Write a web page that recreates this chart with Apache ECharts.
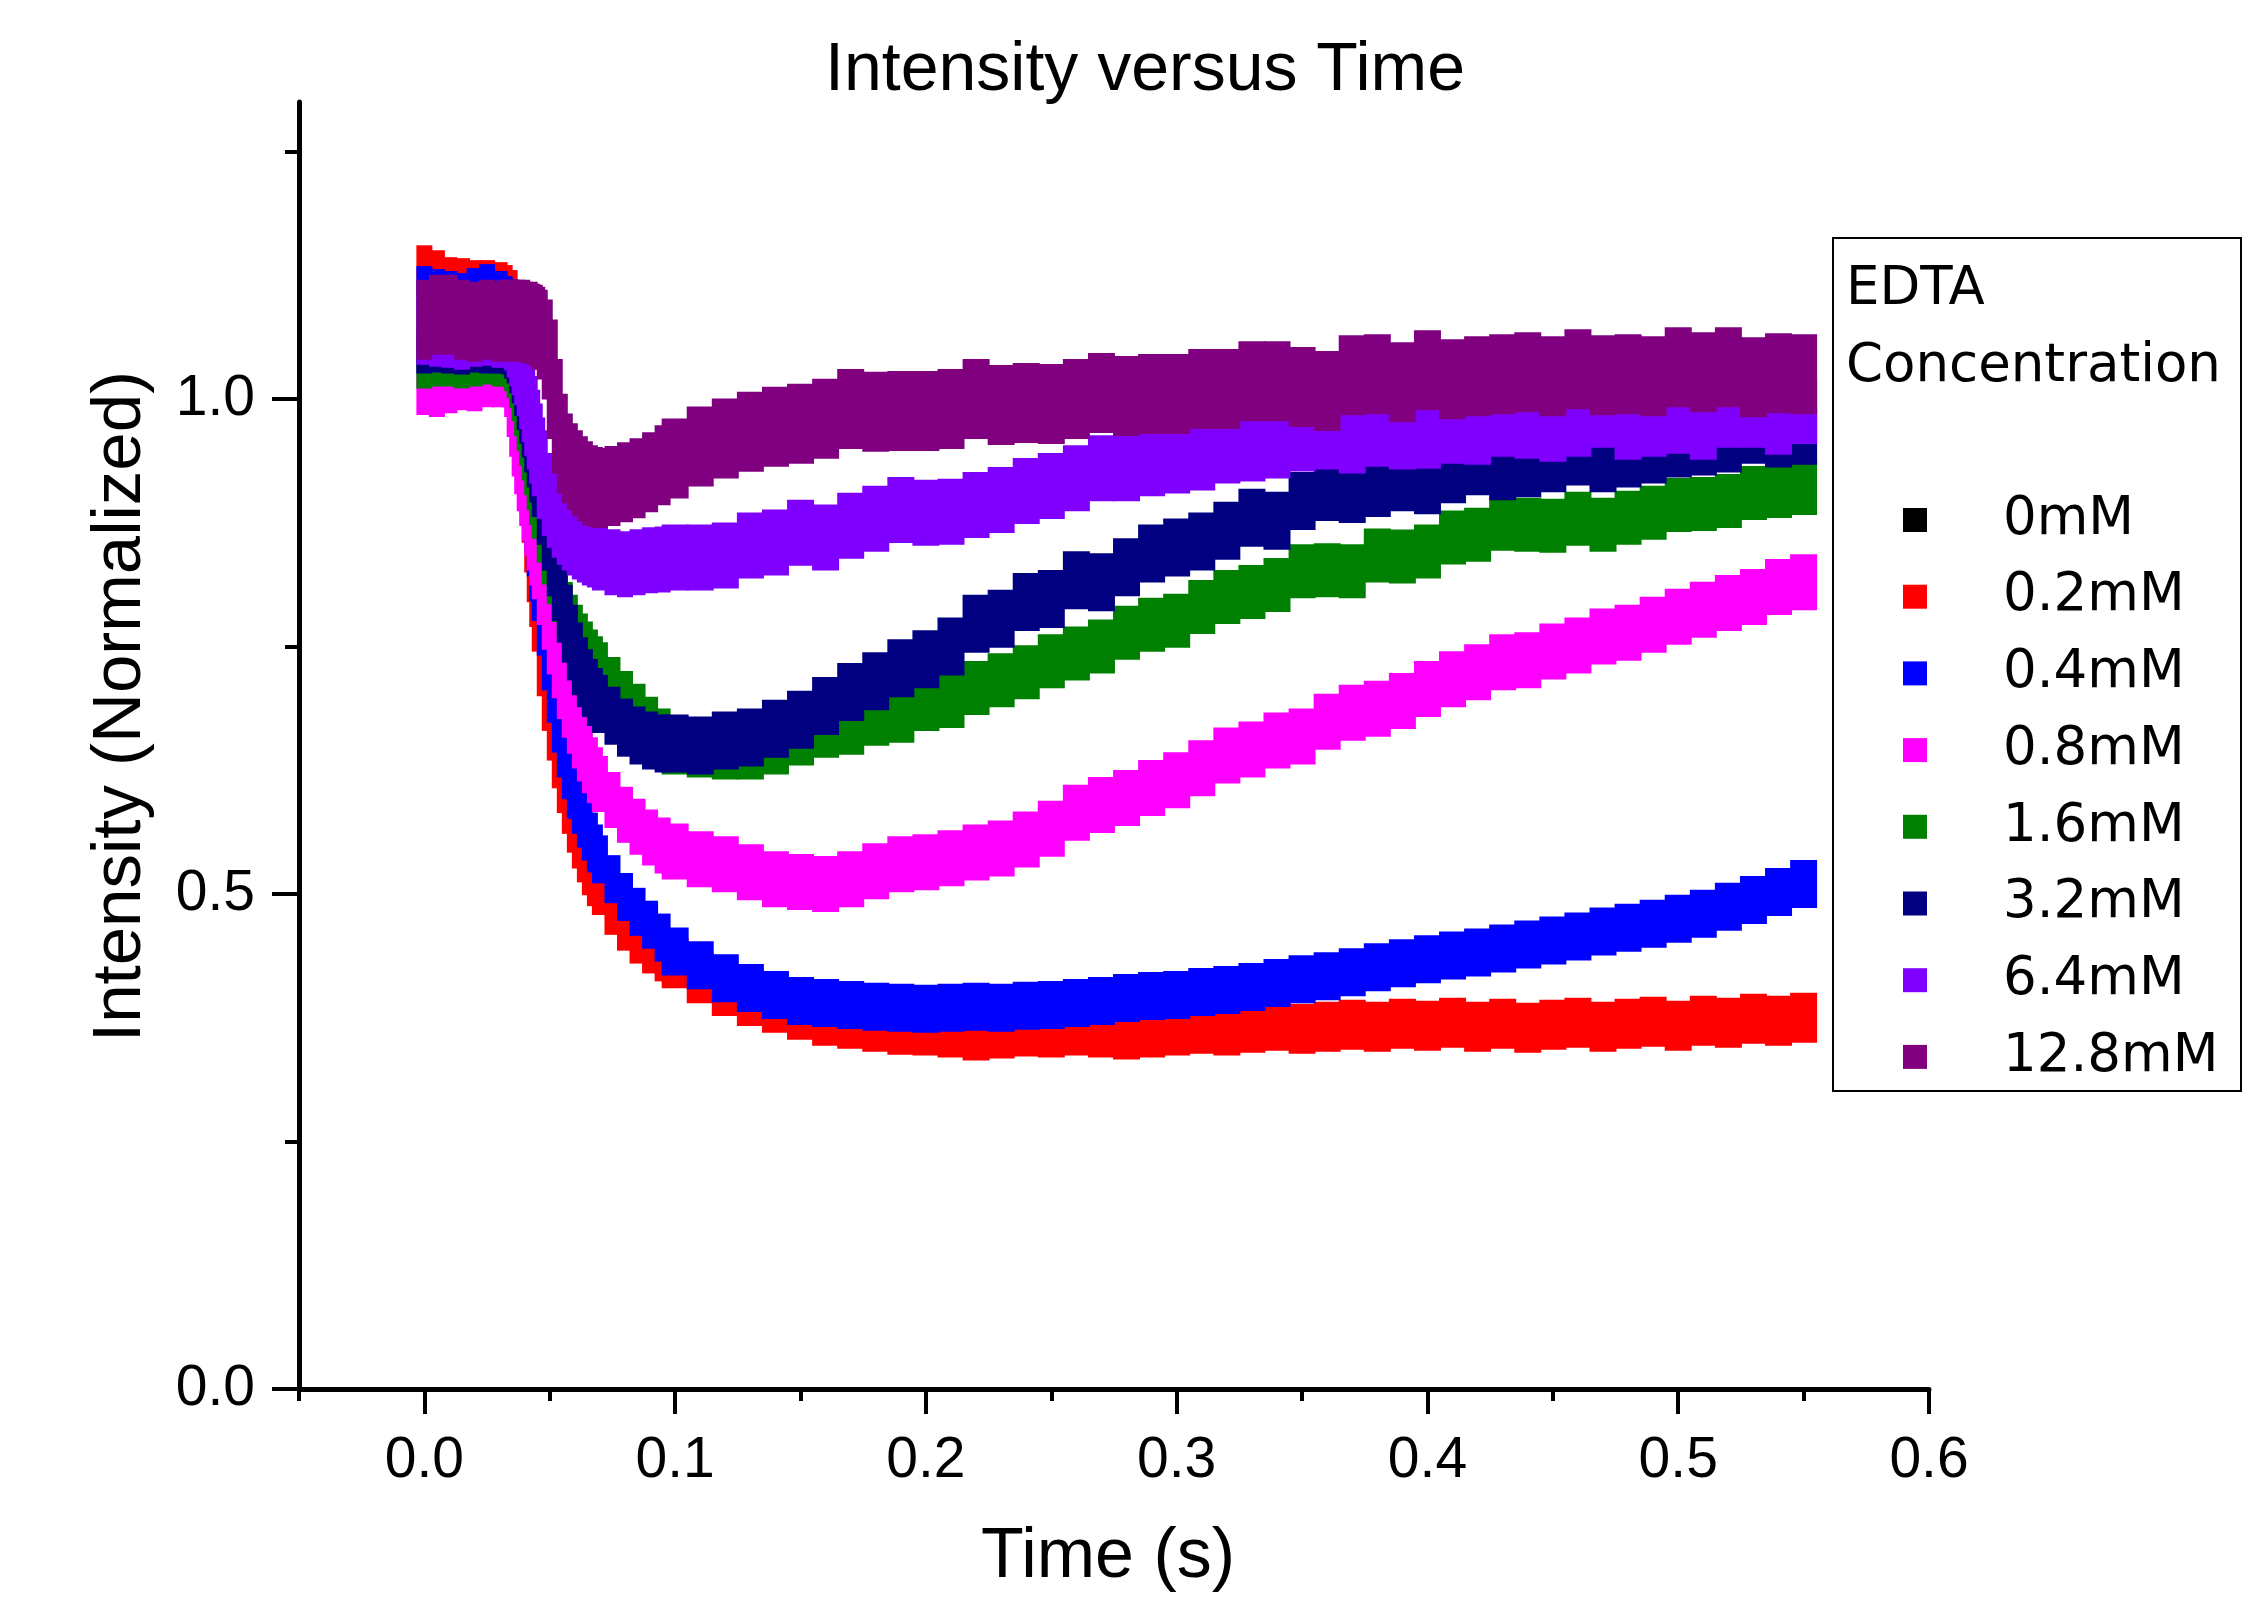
<!DOCTYPE html>
<html>
<head>
<meta charset="utf-8">
<title>Intensity versus Time</title>
<style>
  html, body { margin: 0; padding: 0; background: #fff; }
  #main { width: 2266px; height: 1598px; }
</style>
</head>
<body>
<div id="main"></div>
<script src="https://cdn.jsdelivr.net/npm/echarts@6/dist/echarts.min.js"></script>
<script>
// time points (s)
var times = [
  0, 0.005, 0.01, 0.015, 0.02, 0.025, 0.03, 0.032, 0.034,
  0.035, 0.036, 0.037, 0.038, 0.039, 0.04, 0.041, 0.042, 0.043, 0.044, 0.045, 0.046,
  0.048, 0.05, 0.052, 0.054, 0.056, 0.058, 0.06, 0.062, 0.064, 0.066, 0.068, 0.07,
  0.075, 0.08, 0.085, 0.09, 0.095,
  0.10, 0.11, 0.12, 0.13, 0.14, 0.15, 0.16, 0.17, 0.18, 0.19,
  0.20, 0.21, 0.22, 0.23, 0.24, 0.25, 0.26, 0.27, 0.28, 0.29,
  0.30, 0.31, 0.32, 0.33, 0.34, 0.35, 0.36, 0.37, 0.38, 0.39,
  0.40, 0.41, 0.42, 0.43, 0.44, 0.45, 0.46, 0.47, 0.48, 0.49,
  0.50, 0.51, 0.52, 0.53, 0.54, 0.55
];

// normalized intensity, one array per EDTA concentration
var intensity0mM = [];
var intensity02mM = [
  1.13, 1.125, 1.118, 1.117, 1.115, 1.115, 1.113, 1.11, 1.105,
  1.09, 1.06, 1.03, 1.0, 0.97, 0.94, 0.91, 0.88, 0.85, 0.82, 0.795, 0.77,
  0.725, 0.69, 0.66, 0.632, 0.607, 0.586, 0.567, 0.551, 0.537, 0.524, 0.513, 0.504,
  0.484, 0.468, 0.455, 0.445, 0.437,
  0.43, 0.415, 0.402, 0.392, 0.385, 0.378, 0.372, 0.369, 0.366, 0.363,
  0.362, 0.36, 0.357, 0.359, 0.361, 0.36, 0.362, 0.36, 0.358, 0.36,
  0.362, 0.364, 0.362, 0.365, 0.367, 0.364, 0.366, 0.368, 0.366, 0.369,
  0.367, 0.37, 0.366, 0.369, 0.365, 0.368, 0.37, 0.366, 0.369, 0.371,
  0.367, 0.372, 0.37, 0.374, 0.372, 0.375
];
var intensity04mM = [
  1.11, 1.107, 1.105, 1.103, 1.108, 1.112, 1.105, 1.1, 1.097,
  1.085, 1.065, 1.04, 1.015, 0.99, 0.96, 0.93, 0.9, 0.872, 0.845, 0.82, 0.8,
  0.765, 0.73, 0.697, 0.667, 0.642, 0.62, 0.6, 0.585, 0.571, 0.558, 0.546, 0.535,
  0.515, 0.497, 0.482, 0.469, 0.456,
  0.442, 0.428, 0.415, 0.405, 0.398, 0.392, 0.39, 0.388, 0.386, 0.385,
  0.384, 0.385, 0.386, 0.385, 0.387, 0.388, 0.39, 0.392, 0.395, 0.397,
  0.398, 0.401, 0.403, 0.406, 0.41, 0.414, 0.417, 0.421, 0.426, 0.43,
  0.434, 0.438, 0.441, 0.445, 0.449, 0.453, 0.457, 0.462, 0.466, 0.47,
  0.475, 0.48, 0.487, 0.494, 0.502, 0.51
];
var intensity08mM = [
  1.012, 1.01, 1.014, 1.017, 1.016, 1.02, 1.02, 1.022, 1.02,
  1.01, 0.99, 0.97, 0.95, 0.932, 0.915, 0.9, 0.885, 0.87, 0.855, 0.84, 0.826,
  0.8, 0.775, 0.75, 0.726, 0.705, 0.686, 0.67, 0.655, 0.642, 0.63, 0.62, 0.611,
  0.595, 0.58, 0.568, 0.557, 0.549,
  0.543, 0.535, 0.53, 0.522, 0.515, 0.512, 0.51, 0.515, 0.523, 0.53,
  0.532, 0.536, 0.542, 0.546, 0.555, 0.566, 0.582, 0.59, 0.597, 0.607,
  0.615, 0.627, 0.64, 0.646, 0.655, 0.659, 0.674, 0.683, 0.687, 0.695,
  0.707, 0.717, 0.724, 0.734, 0.736, 0.745, 0.751, 0.76, 0.764, 0.772,
  0.78, 0.787, 0.794, 0.8, 0.81, 0.815
];
var intensity16mM = [
  1.038, 1.04, 1.04, 1.038, 1.04, 1.042, 1.04, 1.04, 1.04,
  1.035, 1.028, 1.018, 1.005, 0.99, 0.975, 0.96, 0.945, 0.93, 0.915, 0.9, 0.886,
  0.862, 0.84, 0.82, 0.802, 0.788, 0.775, 0.765, 0.756, 0.748, 0.74, 0.733, 0.727,
  0.712, 0.698, 0.685, 0.672, 0.66,
  0.648, 0.645, 0.643, 0.643, 0.648, 0.657, 0.665, 0.668, 0.677, 0.68,
  0.692, 0.695, 0.708, 0.716, 0.724, 0.735, 0.743, 0.75, 0.764, 0.772,
  0.776, 0.79, 0.8, 0.805, 0.812, 0.826, 0.827, 0.826, 0.842, 0.841,
  0.846, 0.86, 0.863, 0.874, 0.873, 0.872, 0.879, 0.873, 0.88, 0.885,
  0.893, 0.894, 0.897, 0.905, 0.907, 0.91
];
var intensity32mM = [
  1.055, 1.056, 1.055, 1.054, 1.056, 1.055, 1.055, 1.055, 1.054,
  1.05, 1.045, 1.035, 1.025, 1.012, 0.998, 0.984, 0.97, 0.955, 0.94, 0.925, 0.91,
  0.882, 0.856, 0.83, 0.805, 0.783, 0.763, 0.745, 0.73, 0.718, 0.708, 0.699, 0.692,
  0.68, 0.668, 0.66, 0.655, 0.652,
  0.652, 0.65, 0.655, 0.658, 0.667, 0.676, 0.69, 0.704, 0.715, 0.728,
  0.737, 0.75, 0.773, 0.778, 0.795, 0.798, 0.817, 0.815, 0.83, 0.844,
  0.85, 0.856, 0.867, 0.88, 0.877, 0.897, 0.906, 0.904, 0.91, 0.916,
  0.913, 0.924, 0.932, 0.927, 0.93, 0.935, 0.942, 0.935, 0.94, 0.944,
  0.95, 0.952, 0.955, 0.964, 0.96, 0.963
];
var intensity64mM = [
  1.068, 1.066, 1.065, 1.063, 1.066, 1.067, 1.065, 1.066, 1.065,
  1.062, 1.055, 1.046, 1.037, 1.027, 1.016, 1.003, 0.99, 0.976, 0.962, 0.948, 0.935,
  0.912, 0.895, 0.883, 0.873, 0.866, 0.86, 0.855, 0.851, 0.848, 0.845, 0.843, 0.84,
  0.835, 0.833, 0.835, 0.837, 0.838,
  0.84, 0.84, 0.842, 0.852, 0.855, 0.865, 0.86, 0.872, 0.879, 0.888,
  0.885, 0.886, 0.893, 0.898, 0.907, 0.912, 0.92, 0.93, 0.93, 0.935,
  0.938, 0.941, 0.948, 0.95, 0.953, 0.96, 0.962, 0.958, 0.965, 0.962,
  0.963, 0.968, 0.967, 0.975, 0.973, 0.97, 0.975, 0.984, 0.972, 0.975,
  0.978, 0.972, 0.984, 0.984, 0.977, 0.988
];
var intensity128mM = [
  1.08, 1.085, 1.085, 1.08, 1.078, 1.08, 1.078, 1.08, 1.08,
  1.08, 1.078, 1.08, 1.079, 1.08, 1.078, 1.077, 1.078, 1.076, 1.075, 1.073, 1.07,
  1.06, 1.04, 1.0, 0.965, 0.945, 0.935, 0.928, 0.922, 0.917, 0.913, 0.911, 0.91,
  0.912, 0.916, 0.92, 0.926, 0.933,
  0.94, 0.952, 0.96, 0.967, 0.972, 0.975, 0.98, 0.99, 0.987, 0.988,
  0.988, 0.99, 1.0, 0.994, 0.996, 0.995, 1.0, 1.006, 1.003, 1.005,
  1.005, 1.01, 1.01, 1.018, 1.018, 1.012, 1.008, 1.024, 1.025, 1.017,
  1.029, 1.02, 1.023, 1.025, 1.027, 1.023, 1.03, 1.024, 1.025, 1.023,
  1.032, 1.027, 1.032, 1.022, 1.026, 1.025
];

var legendNames = ['0mM', '0.2mM', '0.4mM', '0.8mM', '1.6mM', '3.2mM', '6.4mM', '12.8mM'];
var xMajorTicks = [0, 0.1, 0.2, 0.3, 0.4, 0.5, 0.6];
var xMinorTicks = [-0.05, 0.05, 0.15, 0.25, 0.35, 0.45, 0.55];
var yMajorTicks = [0, 0.5, 1.0];
var yMinorTicks = [0.25, 0.75, 1.25];

var seriesDefs = [
  { values: intensity0mM, color: '#000000', h: 50 },
  { values: intensity02mM, color: '#ff0000', h: 50 },
  { values: intensity04mM, color: '#0000ff', h: 48 },
  { values: intensity08mM, color: '#ff00ff', h: 56 },
  { values: intensity16mM, color: '#008000', h: 54 },
  { values: intensity32mM, color: '#000080', h: 58 },
  { values: intensity64mM, color: '#8000ff', h: 66 },
  { values: intensity128mM, color: '#800080', h: 80 }
];

var axisFont = 'Liberation Sans, Arial, sans-serif';
var legendFont = 'DejaVu Sans, Verdana, sans-serif';

var chart = echarts.init(document.getElementById('main'));

var option = {
  animation: false,
  backgroundColor: '#ffffff',
  title: [{
    text: 'Intensity versus Time',
    left: 1145, top: 37, textAlign: 'center', padding: 0,
    textStyle: { fontFamily: axisFont, fontSize: 68, fontWeight: 'normal', color: '#000' }
  }, {
    text: 'EDTA\nConcentration',
    left: 1846, top: 252, padding: 0,
    textStyle: { fontFamily: legendFont, fontSize: 53, fontWeight: 'normal', color: '#000', lineHeight: 77 }
  }],
  graphic: [{
    type: 'rect', silent: true,
    shape: { x: 1833, y: 238, width: 408, height: 853 },
    style: { fill: 'none', stroke: '#000', lineWidth: 2 }
  }],
  legend: {
    orient: 'vertical', left: 1903, top: 492, padding: 0,
    itemWidth: 24, itemHeight: 24, itemGap: 20.7,
    icon: 'rect', selectedMode: false,
    data: legendNames,
    textStyle: { fontFamily: legendFont, fontSize: 53, color: '#000', lineHeight: 56, padding: [0, 0, 0, 71] }
  },
  grid: { left: 299, top: 102, right: 337, bottom: 203 },
  xAxis: [{
    type: 'value', min: -0.05, max: 0.6, position: 'bottom',
    axisLine: { show: true, onZero: false, lineStyle: { color: '#000', width: 5 } },
    axisTick: { show: true, customValues: xMajorTicks, length: 25, lineStyle: { color: '#000', width: 4 } },
    axisLabel: {
      customValues: xMajorTicks, margin: 44, color: '#000', fontFamily: axisFont, fontSize: 57,
      formatter: function (v) { return v.toFixed(1); }
    },
    splitLine: { show: false },
    name: 'Time (s)', nameLocation: 'middle', nameGap: 134,
    nameTextStyle: { fontFamily: axisFont, fontSize: 70, color: '#000', padding: [0, 12, 0, 0] }
  }, {
    type: 'value', min: -0.05, max: 0.6, position: 'bottom',
    axisLine: { show: false },
    axisTick: { show: true, customValues: xMinorTicks, length: 12, lineStyle: { color: '#000', width: 4 } },
    axisLabel: { show: false },
    splitLine: { show: false }
  }],
  yAxis: [{
    type: 'value', min: 0, max: 1.3, position: 'left',
    axisLine: { show: true, onZero: false, lineStyle: { color: '#000', width: 5 } },
    axisTick: { show: true, customValues: yMajorTicks, length: 27, lineStyle: { color: '#000', width: 4 } },
    axisLabel: {
      customValues: yMajorTicks, margin: 44, color: '#000', fontFamily: axisFont, fontSize: 57,
      formatter: function (v) { return v.toFixed(1); }
    },
    splitLine: { show: false },
    name: 'Intensity (Normalized)', nameLocation: 'middle', nameGap: 144,
    nameTextStyle: { fontFamily: axisFont, fontSize: 69, color: '#000', padding: [0, 0, 0, 78] }
  }, {
    type: 'value', min: 0, max: 1.3, position: 'left',
    axisLine: { show: false, onZero: false },
    axisTick: { show: true, customValues: yMinorTicks, length: 14, lineStyle: { color: '#000', width: 4 } },
    axisLabel: { show: false },
    splitLine: { show: false }
  }],
  series: seriesDefs.map(function (d, k) {
    return {
      name: legendNames[k],
      type: 'scatter',
      xAxisIndex: 0, yAxisIndex: 0,
      symbol: 'rect',
      symbolSize: function (val) { return [val[0] < 0.0975 ? 16 : 27, d.h]; },
      itemStyle: { color: d.color, opacity: 1, borderWidth: 0 },
      emphasis: { disabled: true },
      data: d.values.map(function (v, i) { return [times[i], v]; })
    };
  })
};

chart.setOption(option);
</script>
</body>
</html>
